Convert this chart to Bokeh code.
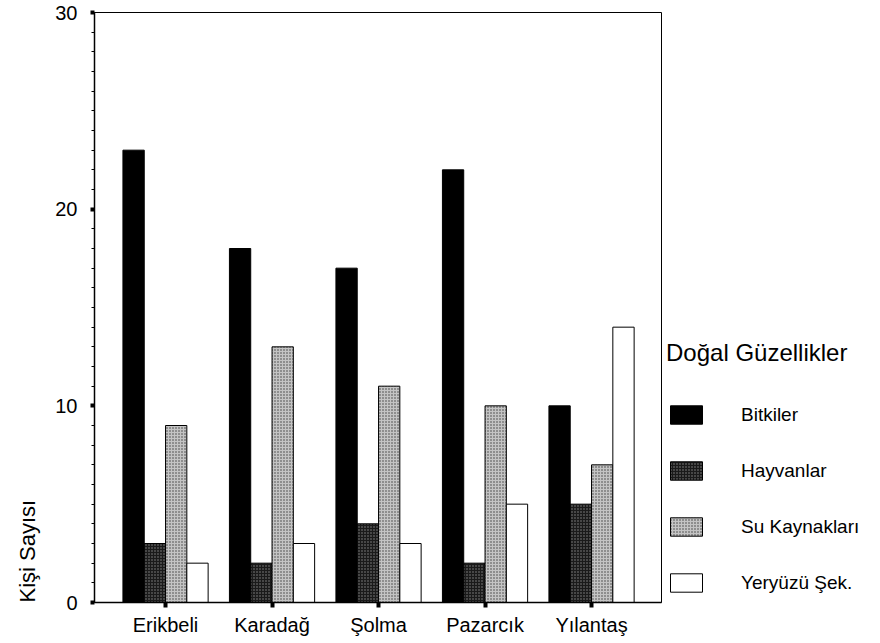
from bokeh.plotting import figure
from bokeh.models import (Range1d, FixedTicker, Legend, LegendItem, ColumnDataSource, Title)
from bokeh.embed import file_html
from bokeh.resources import INLINE

categories = ["Erikbeli", "Karadağ", "Şolma", "Pazarcık", "Yılantaş"]
series = ["Bitkiler", "Hayvanlar", "Su Kaynakları", "Yeryüzü Şek."]
bitkiler = [23, 18, 17, 22, 10]
hayvanlar = [3, 2, 4, 2, 5]
su_kaynaklari = [9, 13, 11, 10, 7]
yeryuzu = [2, 3, 3, 5, 14]
y_ticks = [0, 10, 20, 30]
y_title = "Kişi Sayısı"
legend_title = "Doğal Güzellikler"

FONT = "Liberation Sans"

p = figure(output_backend="svg", toolbar_location=None,
           x_range=Range1d(0.333, 5.657), y_range=Range1d(0, 30),
           frame_width=567, frame_height=590,
           min_border_left=93, min_border_top=12, min_border_right=205, min_border_bottom=30)
p.xgrid.visible = False
p.ygrid.visible = False
p.outline_line_color = "black"
p.outline_line_width = 1
p.background_fill_color = "white"
p.border_fill_color = "white"

xs = list(range(1, len(categories) + 1))
values = [bitkiler, hayvanlar, su_kaynaklari, yeryuzu]
offsets = [-0.3, -0.1, 0.1, 0.3]
styles = [
    dict(fill_color="black", line_color="black"),
    dict(fill_color="#1a1a1a", line_color="black", hatch_pattern="dot",
         hatch_color="#8a8a8a", hatch_scale=3, hatch_weight=0.8),
    dict(fill_color="#c4c4c4", line_color="black", hatch_pattern="dot",
         hatch_color="#3a3a3a", hatch_scale=3, hatch_weight=0.8),
    dict(fill_color="white", line_color="black"),
]
renderers = []
for vals, off, st in zip(values, offsets, styles):
    src = ColumnDataSource(dict(x=[x + off for x in xs], top=vals))
    r = p.vbar(x="x", top="top", bottom=0, width=0.2, source=src, line_width=1, **st)
    renderers.append(r)

# x axis
p.xaxis.ticker = FixedTicker(ticks=xs)
p.xaxis.major_label_overrides = {x: c for x, c in zip(xs, categories)}
p.xaxis.major_label_text_font = FONT
p.xaxis.major_label_text_font_size = "20px"
p.xaxis.major_label_text_color = "black"
p.xaxis.major_tick_out = 5
p.xaxis.major_tick_in = 0
p.xaxis.major_tick_line_width = 4
p.xaxis.minor_tick_line_color = None
p.xaxis.axis_line_width = 1.5
p.xaxis.major_label_standoff = 6

# y axis
p.yaxis.ticker = FixedTicker(ticks=y_ticks, minor_ticks=list(range(0, 31)))
p.yaxis.major_label_text_font = FONT
p.yaxis.major_label_text_font_size = "20px"
p.yaxis.major_label_text_color = "black"
p.yaxis.major_tick_out = 4
p.yaxis.major_tick_in = 0
p.yaxis.major_tick_line_width = 4
p.yaxis.minor_tick_out = 3
p.yaxis.minor_tick_in = 0
p.yaxis.minor_tick_line_width = 1
p.yaxis.axis_line_width = 1.5
p.yaxis.major_label_standoff = 13

# y title, placed low on the left side
p.add_layout(Title(text=y_title, align="left", text_font=FONT, text_font_size="22px",
                   text_font_style="normal", text_color="black", standoff=25), "left")

legend = Legend(items=[LegendItem(label=s, renderers=[r]) for s, r in zip(series, renderers)],
                location=(5, 8), orientation="vertical",
                title=legend_title, title_text_font=FONT, title_text_font_size="24px",
                title_text_font_style="normal", title_text_color="black", title_standoff=36,
                glyph_width=40, glyph_height=23, label_height=23, spacing=33,
                label_standoff=35, padding=0, margin=0,
                border_line_color=None, background_fill_alpha=0,
                label_text_font=FONT, label_text_font_size="19px",
                label_text_color="black", label_text_baseline="middle")
p.add_layout(legend, "right")

open("out.html", "w").write(file_html(p, INLINE))
